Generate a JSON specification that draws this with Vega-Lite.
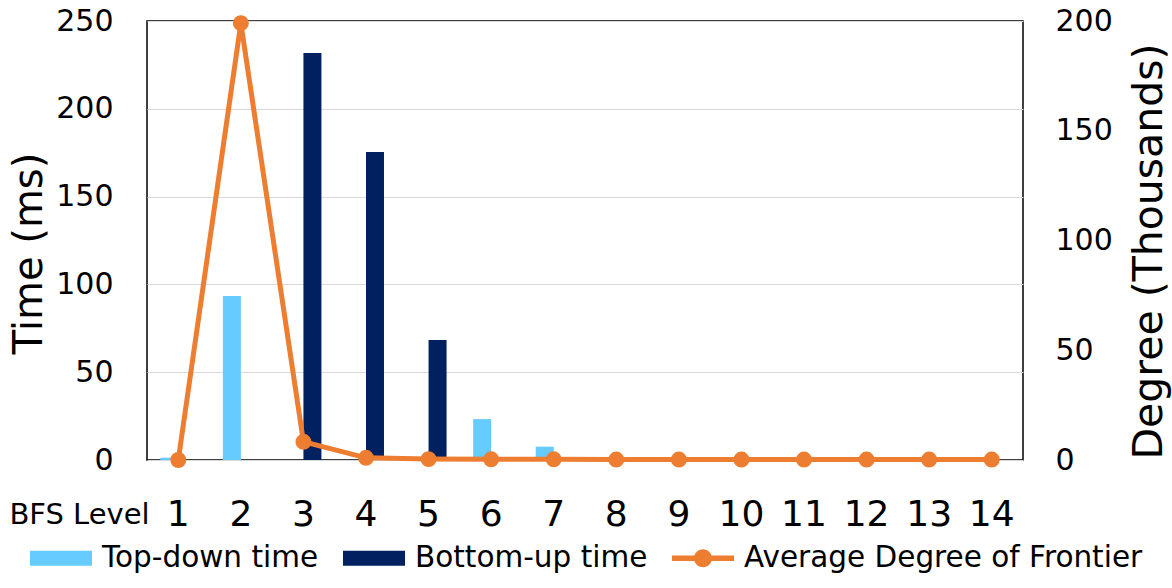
{
  "$schema": "https://vega.github.io/schema/vega-lite/v6.json",
  "width": 876,
  "height": 439,
  "autosize": {"type": "none"},
  "padding": {"left": 147, "top": 21, "right": 149, "bottom": 128},
  "background": "white",
  "config": {
    "view": {"stroke": "black", "strokeWidth": 1.5},
    "font": "DejaVu Sans",
    "axis": {"labelColor": "black", "titleColor": "black", "titleFontWeight": "normal", "domain": false, "ticks": false, "tickSize": 0}
  },
  "datasets": {
    "times": [
      {"level": 1, "series": "Top-down time", "time": 1.3},
      {"level": 2, "series": "Top-down time", "time": 93.4},
      {"level": 3, "series": "Bottom-up time", "time": 231.8},
      {"level": 4, "series": "Bottom-up time", "time": 175.4},
      {"level": 5, "series": "Bottom-up time", "time": 68.3},
      {"level": 6, "series": "Top-down time", "time": 23.3},
      {"level": 7, "series": "Top-down time", "time": 7.6}
    ],
    "degree": [
      {"level": 1, "deg": 0},
      {"level": 2, "deg": 199},
      {"level": 3, "deg": 8.3},
      {"level": 4, "deg": 1.0},
      {"level": 5, "deg": 0.4},
      {"level": 6, "deg": 0.3},
      {"level": 7, "deg": 0.3},
      {"level": 8, "deg": 0.2},
      {"level": 9, "deg": 0.2},
      {"level": 10, "deg": 0.2},
      {"level": 11, "deg": 0.2},
      {"level": 12, "deg": 0.2},
      {"level": 13, "deg": 0.2},
      {"level": 14, "deg": 0.2}
    ]
  },
  "layer": [
    {
      "data": {"name": "times"},
      "mark": {"type": "bar"},
      "encoding": {
        "x": {
          "field": "level", "type": "ordinal",
          "scale": {"paddingInner": 0.425, "paddingOuter": 0.2125},
          "axis": {
            "orient": "bottom", "labelAngle": 0, "labelFontSize": 36,
            "labelBaseline": "alphabetic", "labelPadding": 65,
            "title": "BFS Level", "titleFontSize": 29,
            "titleX": -68, "titleY": 63, "titleAlign": "center", "titleBaseline": "alphabetic",
            "grid": false
          }
        },
        "xOffset": {"field": "series", "sort": ["Top-down time", "Bottom-up time"]},
        "y": {
          "field": "time", "type": "quantitative",
          "scale": {"domain": [0, 250]},
          "axis": {
            "orient": "left", "values": [0, 50, 100, 150, 200, 250],
            "labelFontSize": 30, "labelPadding": 34,
            "grid": true, "gridColor": "#d9d9d9", "gridWidth": 1.2,
            "title": "Time (ms)", "titleFontSize": 40,
            "titleAngle": -90, "titleX": -118, "titleY": 232,
            "titleAlign": "center", "titleBaseline": "middle"
          }
        },
        "color": {
          "field": "series", "type": "nominal",
          "scale": {
            "domain": ["Top-down time", "Bottom-up time", "Average Degree of Frontier"],
            "range": ["#66CCFF", "#002060", "#ED7D31"]
          },
          "legend": {
            "orient": "none", "legendX": -117, "legendY": 506,
            "direction": "horizontal", "title": null,
            "labelFontSize": 29.5, "labelColor": "black", "labelOffset": 10, "labelLimit": 0,
            "columnPadding": 24, "symbolSize": 3844, "symbolStrokeWidth": 0,
            "symbolOpacity": 1,
            "encode": {
              "symbols": {
                "update": {
                  "shape": {"signal": "datum.value === 'Average Degree of Frontier' ? 'M-1,-0.09H1V0.09H-1Z M-0.29,0A0.29,0.29 0 1,1 0.29,0A0.29,0.29 0 1,1 -0.29,0Z' : 'M-1,-0.24H1V0.24H-1Z'"},
                  "fill": {"signal": "scale('color', datum.value)"},
                  "strokeWidth": {"value": 0},
                  "opacity": {"value": 1}
                }
              }
            }
          }
        }
      }
    },
    {
      "data": {"name": "degree"},
      "encoding": {
        "x": {"field": "level", "type": "ordinal"},
        "y": {
          "field": "deg", "type": "quantitative",
          "scale": {"domain": [0, 200]},
          "axis": {
            "orient": "right", "values": [0, 50, 100, 150, 200],
            "labelFontSize": 30, "labelPadding": 32, "grid": false,
            "title": "Degree (Thousands)", "titleFontSize": 41,
            "titleAngle": -90, "titleX": 126, "titleY": 230,
            "titleAlign": "center", "titleBaseline": "middle"
          }
        },
        "color": {"datum": "Average Degree of Frontier"}
      },
      "layer": [
        {"mark": {"type": "line", "strokeWidth": 5}},
        {"mark": {"type": "point", "filled": true, "size": 254, "opacity": 1}}
      ]
    }
  ],
  "resolve": {"scale": {"y": "independent"}}
}
